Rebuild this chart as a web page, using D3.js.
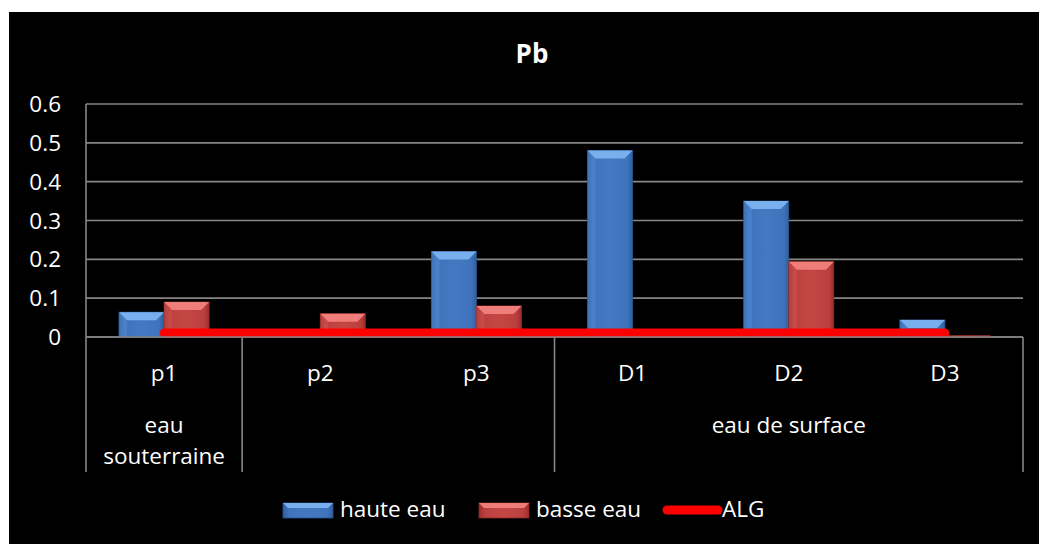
<!DOCTYPE html>
<html><head><meta charset="utf-8">
<script src="https://cdn.jsdelivr.net/npm/d3@7"></script>
<style>
html,body{margin:0;padding:0;background:#fff;}
text{font-family:"Open Sans",Lato,sans-serif;fill:#fff;}
</style></head>
<body><svg id="c" width="1039" height="544"></svg>
<script>
const categories = ["p1","p2","p3","D1","D2","D3"];
const groups = [{label:["eau","souterraine"], from:0, to:0},{label:[], from:1, to:2},{label:["eau de surface"], from:3, to:5}];
const hauteEau = [0.064, 0, 0.22, 0.48, 0.35, 0.044];
const basseEau = [0.09, 0.06, 0.08, 0, 0.194, 0.004];
const alg = [0.01, 0.01, 0.01, 0.01, 0.01, 0.01];
const yTicks = [0, 0.1, 0.2, 0.3, 0.4, 0.5, 0.6];
const seriesNames = ["haute eau","basse eau","ALG"];

const FS = "22.5px";
const svg = d3.select("#c");
svg.append("rect").attr("x",9).attr("y",12).attr("width",1030).attr("height",532).attr("fill","#000");

const L=86, R=1023, T=104, B=337;
const x = d3.scaleBand().domain(categories).range([L,R]).padding(0);
const x1 = d3.scaleBand().domain(["h","b"]).range([0,x.bandwidth()]).paddingInner(0).paddingOuter(0.733);
const y = d3.scaleLinear().domain([0,0.6]).range([B,T]);

const defs = svg.append("defs");
function grad(id, stops){
  const g = defs.append("linearGradient").attr("id",id).attr("x1","0").attr("x2","1").attr("y1","0").attr("y2","0");
  stops.forEach(s=>g.append("stop").attr("offset",s[0]).attr("stop-color",s[1]));
}
grad("gb",[[0,"#2f5f9f"],[0.12,"#3f74bd"],[0.5,"#4479c2"],[0.88,"#3f74bd"],[1,"#2f5f9f"]]);
grad("gr",[[0,"#9a2e2c"],[0.12,"#bb403d"],[0.5,"#c44744"],[0.88,"#bb403d"],[1,"#9a2e2c"]]);
const topB = {h:"#78b0ee", b:"#ef7d7a"};
const topB2 = {h:"#5d97dc", b:"#dc5f5c"};

// gridlines
svg.append("g").selectAll("line").data(yTicks).join("line")
  .attr("x1",L).attr("x2",R).attr("y1",d=>y(d)).attr("y2",d=>y(d))
  .attr("stroke","#868686").attr("stroke-width",1.6);
// y labels
svg.append("g").selectAll("text").data(yTicks).join("text")
  .attr("x",61).attr("y",d=>y(d)).attr("dy","0.36em").attr("text-anchor","end")
  .style("font-size",FS).text(d=>d===0?"0":d3.format(".1f")(d));

// vertical axis line
svg.append("line").attr("x1",L).attr("x2",L).attr("y1",T).attr("y2",472).attr("stroke","#868686").attr("stroke-width",1.6);
// group separators
const seps = [];
groups.forEach(g=>{seps.push(x(categories[g.to])+x.bandwidth());});
svg.append("g").selectAll("line").data(seps).join("line")
  .attr("x1",d=>d).attr("x2",d=>d).attr("y1",B).attr("y2",472).attr("stroke","#868686").attr("stroke-width",1.6);

// bars
function drawBar(g, key, cat, v){
  if(v<=0) return;
  const bx = x(cat)+x1(key), bw = x1.bandwidth(), by = y(v), bh = B - by;
  g.append("rect").attr("x",bx).attr("y",by).attr("width",bw).attr("height",bh)
    .attr("fill", key==="h"?"url(#gb)":"url(#gr)")
    .attr("stroke", key==="h"?"#2a5590":"#8a2a28").attr("stroke-width",0.8);
  const bev = Math.min(8, bh/2, bw/2);
  if(bh>3){
    g.append("path").attr("d",`M${bx},${by}L${bx+bw},${by}L${bx+bw-bev},${by+bev}L${bx+bev},${by+bev}Z`)
      .attr("fill",topB[key]);
    g.append("path").attr("d",`M${bx},${by}L${bx+bev},${by+bev}L${bx+bev},${by+bh}L${bx},${by+bh}Z`).attr("fill",topB2[key]).attr("opacity",0.35);
  }
}
const bars = svg.append("g");
categories.forEach((c,i)=>{drawBar(bars,"h",c,hauteEau[i]); drawBar(bars,"b",c,basseEau[i]);});

// ALG line
const line = d3.line().x((d,i)=>x(categories[i])+x.bandwidth()/2).y(d=>y(d));
svg.append("path").datum(alg).attr("d",line).attr("fill","none").attr("stroke","#ff0000")
  .attr("stroke-width",9).attr("stroke-linecap","round").attr("stroke-linejoin","round");

// x axis baseline
svg.append("line").attr("x1",L).attr("x2",R).attr("y1",B).attr("y2",B).attr("stroke","#868686").attr("stroke-width",1.6);

// category labels
svg.append("g").selectAll("text").data(categories).join("text")
  .attr("x",d=>x(d)+x.bandwidth()/2).attr("y",381).attr("text-anchor","middle")
  .style("font-size",FS).text(d=>d);
// group labels
groups.forEach(g=>{
  const cx = (x(categories[g.from]) + x(categories[g.to])+x.bandwidth())/2;
  g.label.forEach((t,j)=>{
    svg.append("text").attr("x",cx).attr("y",433+j*31).attr("text-anchor","middle").style("font-size",FS).text(t);
  });
});

// title
svg.append("text").attr("x",532).attr("y",63).attr("text-anchor","middle")
  .style("font-size","26px").style("font-weight","bold").text("Pb");

// legend
const leg = svg.append("g");
const legItems = [
  {name:seriesNames[0], key:"h", sx:283, tx:340},
  {name:seriesNames[1], key:"b", sx:479, tx:536},
  {name:seriesNames[2], key:"l", sx:663, tx:722}
];
legItems.forEach(it=>{
  if(it.key==="l"){
    leg.append("line").attr("x1",it.sx+4).attr("x2",it.sx+55).attr("y1",510).attr("y2",510)
      .attr("stroke","#ff0000").attr("stroke-width",9).attr("stroke-linecap","round");
  } else {
    const bx=it.sx,by=503,bw=50,bh=15;
    leg.append("rect").attr("x",bx).attr("y",by).attr("width",bw).attr("height",bh)
      .attr("fill",it.key==="h"?"url(#gb)":"url(#gr)").attr("stroke",it.key==="h"?"#2a5590":"#8a2a28").attr("stroke-width",0.8);
    leg.append("path").attr("d",`M${bx},${by}L${bx+bw},${by}L${bx+bw-5},${by+5}L${bx+5},${by+5}Z`).attr("fill",topB[it.key]);
  }
  leg.append("text").attr("x",it.tx).attr("y",517).style("font-size",FS).text(it.name);
});
</script></body></html>
